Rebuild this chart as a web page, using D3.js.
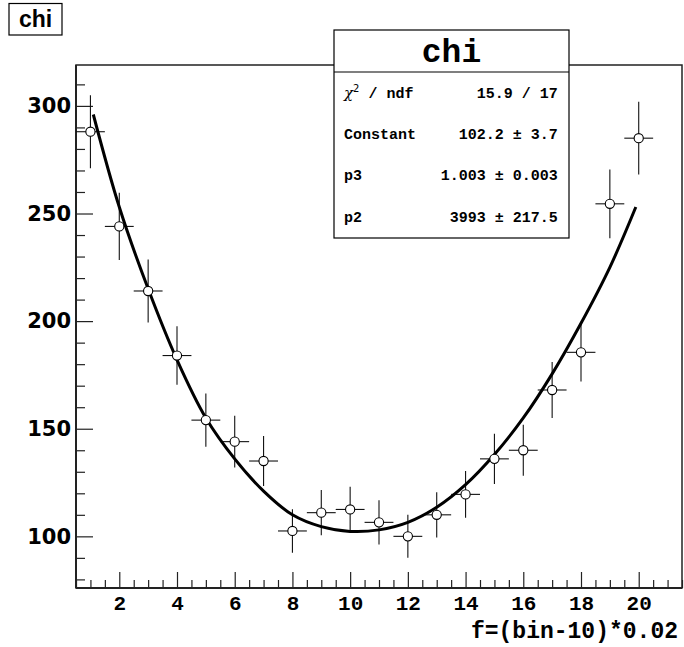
<!DOCTYPE html>
<html>
<head>
<meta charset="utf-8">
<script src="https://cdn.jsdelivr.net/npm/d3@7"></script>
<style>
  html, body { margin: 0; padding: 0; background: #fff; }
  svg { display: block; }
</style>
</head>
<body>
<svg id="chart" width="684" height="647"></svg>
<script>
// ---- data ----
const bins = [1, 2, 3, 4, 5, 6, 7, 8, 9, 10, 11, 12, 13, 14, 15, 16, 17, 18, 19, 20];
const counts = [288, 244, 214, 184, 154, 144, 135, 102.5, 111, 112.5, 106.5, 100, 110, 119.5, 136, 140, 168, 185.5, 254.5, 285];
const errors = [17, 15.6, 14.6, 13.6, 12.4, 12, 11.6, 10.1, 10.5, 10.6, 10.3, 10, 10.5, 10.9, 11.7, 11.8, 13, 13.6, 16, 16.9];
const binHalfWidth = 0.5;
const fitX = [1.1, 2, 3, 4, 5, 6, 7, 8, 9, 10, 11, 12, 13, 14, 15, 16, 17, 18, 19, 19.9];
const fitY = [296, 253, 215, 182, 155, 136, 121, 110, 104.5, 102.3, 103, 106.5, 113.5, 124, 138, 155, 175.5, 199, 225, 253];
const xMajorTicks = [2, 4, 6, 8, 10, 12, 14, 16, 18, 20];
const yMajorTicks = [100, 150, 200, 250, 300];
const xDomain = [0.5, 21.5];
const yDomain = [76, 319];
const histTitle = "chi";
const xTitle = "f=(bin-10)*0.02";
const statLabels = ["χ2 / ndf", "Constant", "p3", "p2"];
const statValues = ["15.9 / 17", "102.2 ± 3.7", "1.003 ± 0.003", "3993 ± 217.5"];

// ---- layout ----
const svg = d3.select("#chart");
const L = 76, R = 682, T = 65, B = 588;
const x = d3.scaleLinear().domain(xDomain).range([L, R]);
const y = d3.scaleLinear().domain(yDomain).range([B, T]);
const MONO = "'Liberation Mono', 'Courier New', monospace";

svg.append("rect").attr("width", 684).attr("height", 647).attr("fill", "#fff");

// minor tick values
const xMinor = d3.range(xDomain[0], xDomain[1] + 0.001, 0.5).filter(v => !xMajorTicks.includes(v));
const yMinor = d3.range(80, yDomain[1], 10).filter(v => !yMajorTicks.includes(v));

// x axis
const gxMinor = svg.append("g").attr("transform", `translate(0,${B})`)
  .call(d3.axisBottom(x).tickValues(xMinor).tickSizeInner(-8).tickSizeOuter(0).tickFormat(""));
const gx = svg.append("g").attr("transform", `translate(0,${B})`)
  .call(d3.axisBottom(x).tickValues(xMajorTicks).tickSizeInner(-16).tickSizeOuter(0).tickPadding(7).tickFormat(d3.format("d")));
gx.selectAll("text").attr("font-family", MONO).attr("font-weight", "bold").attr("font-size", 21).attr("fill", "#000");

// y axis
const gyMinor = svg.append("g").attr("transform", `translate(${L},0)`)
  .call(d3.axisLeft(y).tickValues(yMinor).tickSizeInner(-9).tickSizeOuter(0).tickFormat(""));
const gy = svg.append("g").attr("transform", `translate(${L},0)`)
  .call(d3.axisLeft(y).tickValues(yMajorTicks).tickSizeInner(-17).tickSizeOuter(0).tickPadding(5).tickFormat(d3.format("d")));
gy.selectAll("text").attr("font-family", "'DejaVu Sans', sans-serif").attr("font-weight", "bold").attr("font-size", 21).attr("fill", "#000");

[gxMinor, gx, gyMinor, gy].forEach(g => {
  g.select(".domain").remove();
  g.selectAll("line").attr("stroke", "#222").attr("stroke-width", 1.2);
});

// frame
svg.append("rect").attr("x", L).attr("y", T).attr("width", R - L).attr("height", B - T)
  .attr("fill", "none").attr("stroke", "#222").attr("stroke-width", 1.5);
svg.append("line").attr("x1", L).attr("x2", L).attr("y1", T).attr("y2", B).attr("stroke", "#222").attr("stroke-width", 2);
svg.append("line").attr("x1", L).attr("x2", R).attr("y1", B).attr("y2", B).attr("stroke", "#222").attr("stroke-width", 2);

// error bars
const pts = bins.map((b, i) => ({ b, v: counts[i], e: errors[i] }));
const gErr = svg.append("g").attr("stroke", "#111").attr("stroke-width", 1.1);
gErr.selectAll("line.v").data(pts).join("line").attr("class", "v")
  .attr("x1", d => x(d.b)).attr("x2", d => x(d.b))
  .attr("y1", d => y(d.v - d.e)).attr("y2", d => y(d.v + d.e));
gErr.selectAll("line.h").data(pts).join("line").attr("class", "h")
  .attr("x1", d => x(d.b - binHalfWidth)).attr("x2", d => x(d.b + binHalfWidth))
  .attr("y1", d => y(d.v)).attr("y2", d => y(d.v));

// fit curve
const fitData = fitX.map((fx, i) => [fx, fitY[i]]);
svg.append("path").datum(fitData)
  .attr("d", d3.line().x(d => x(d[0])).y(d => y(d[1])).curve(d3.curveCatmullRom.alpha(0.5)))
  .attr("fill", "none").attr("stroke", "#000").attr("stroke-width", 3);

// markers
svg.append("g").selectAll("circle").data(pts).join("circle")
  .attr("cx", d => x(d.b)).attr("cy", d => y(d.v)).attr("r", 4.6)
  .attr("fill", "#fff").attr("stroke", "#000").attr("stroke-width", 1.1);

// stats box
const sb = { x: 334, y: 30, w: 235, h: 208, sep: 72 };
svg.append("rect").attr("x", sb.x).attr("y", sb.y).attr("width", sb.w).attr("height", sb.h)
  .attr("fill", "#fff").attr("stroke", "#000").attr("stroke-width", 1.2);
svg.append("line").attr("x1", sb.x).attr("x2", sb.x + sb.w).attr("y1", sb.sep).attr("y2", sb.sep)
  .attr("stroke", "#000").attr("stroke-width", 1.2);
svg.append("text").attr("x", sb.x + sb.w / 2).attr("y", 62).attr("text-anchor", "middle")
  .attr("font-family", MONO).attr("font-weight", "bold").attr("font-size", 33).text(histTitle);
const rowY = d3.scaleLinear().domain([0, 3]).range([97.7, 221.5]);
statLabels.forEach((lab, i) => {
  const t = svg.append("text").attr("x", 344).attr("y", rowY(i))
    .attr("font-family", MONO).attr("font-weight", "bold").attr("font-size", 15);
  if (lab.startsWith("χ2")) {
    t.append("tspan").attr("font-family", "'DejaVu Serif', serif").attr("font-style", "italic").attr("font-weight", "normal").text("χ");
    t.append("tspan").attr("font-size", 10).attr("dy", -6).attr("font-family", "'DejaVu Sans', sans-serif").attr("font-weight", "normal").text("2");
    t.append("tspan").attr("dy", 6).text(lab.slice(2));
  } else {
    t.text(lab);
  }
  svg.append("text").attr("x", 557.7).attr("y", rowY(i)).attr("text-anchor", "end")
    .attr("font-family", MONO).attr("font-weight", "bold").attr("font-size", 15).text(statValues[i]);
});

// title box top-left
svg.append("rect").attr("x", 9).attr("y", 3.5).attr("width", 53).attr("height", 31.5)
  .attr("fill", "#fff").attr("stroke", "#000").attr("stroke-width", 1.2);
svg.append("text").attr("x", 35.5).attr("y", 27).attr("text-anchor", "middle")
  .attr("font-family", "'Liberation Sans', Arial, sans-serif").attr("font-weight", "bold").attr("font-size", 23)
  .text(histTitle);

// x title
svg.append("text").attr("x", 678).attr("y", 637.5).attr("text-anchor", "end")
  .attr("font-family", MONO).attr("font-weight", "bold").attr("font-size", 23).text(xTitle);
</script>
</body>
</html>
